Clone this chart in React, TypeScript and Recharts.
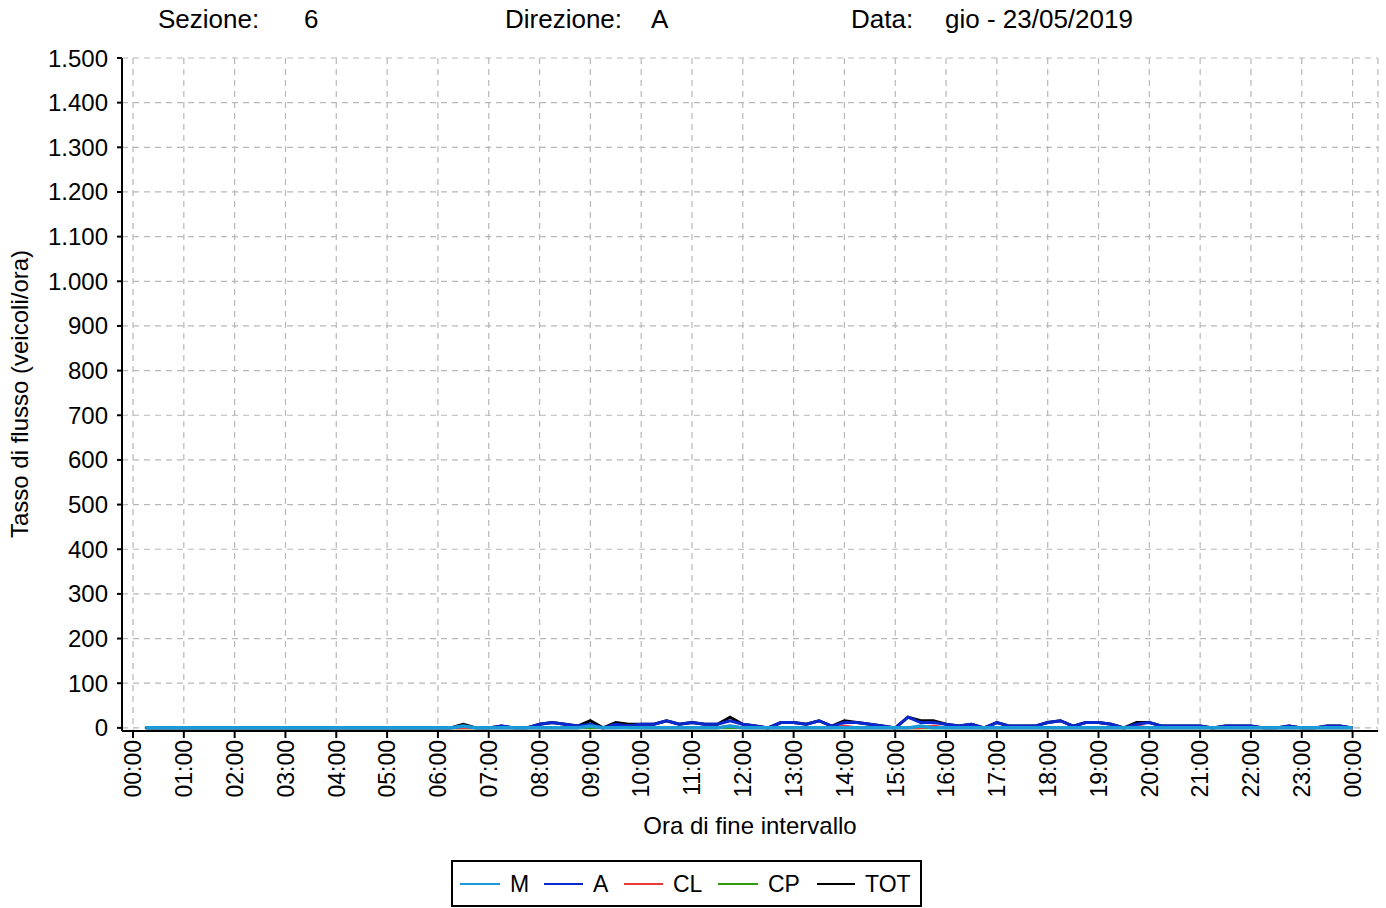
import React from 'react';
import { LineChart, Line, XAxis, YAxis, CartesianGrid } from 'recharts';

// Tasso di flusso per classe, un valore ogni 15 minuti (00:15 ... 24:00)
// ogni riga = un'ora (4 quarti d'ora)
const serieM = [
  0, 0, 0, 0, 0, 0, 0, 0, 0, 0, 0, 0, 0, 0, 0, 0, 0, 0, 0, 0, 0, 0, 0, 0, // 00-06
  0, 4, 0, 0, // 06
  0, 0, 0, 0, // 07
  0, 0, 0, 4, // 08
  0, 0, 0, 0, // 09
  0, 0, 0, 0, // 10
  0, 0, 4, 0, // 11
  0, 0, 0, 0, // 12
  0, 0, 0, 0, // 13
  0, 0, 0, 0, // 14
  0, 4, 0, 0, // 15
  0, 0, 0, 0, // 16
  0, 0, 0, 0, // 17
  0, 0, 0, 0, // 18
  0, 0, 0, 0, // 19
  0, 0, 0, 0, // 20
  0, 0, 0, 0, // 21
  0, 0, 0, 0, // 22
  0, 0, 0, 0, // 23
];

const serieA = [
  0, 0, 0, 0, 0, 0, 0, 0, 0, 0, 0, 0, 0, 0, 0, 0, 0, 0, 0, 0, 0, 0, 0, 0,
  0, 4, 0, 0,
  4, 0, 0, 8,
  12, 8, 4, 8,
  0, 8, 4, 8,
  8, 16, 8, 12,
  8, 8, 16, 8,
  4, 0, 12, 12,
  8, 16, 4, 12,
  12, 8, 4, 0,
  24, 12, 12, 8,
  4, 8, 0, 12,
  4, 4, 4, 12,
  16, 4, 12, 12,
  8, 0, 8, 12,
  4, 4, 4, 4,
  0, 4, 4, 4,
  0, 0, 4, 0,
  0, 4, 4, 0,
];

const serieCL = [
  0, 0, 0, 0, 0, 0, 0, 0, 0, 0, 0, 0, 0, 0, 0, 0, 0, 0, 0, 0, 0, 0, 0, 0,
  0, 0, 0, 0,
  0, 0, 0, 0,
  0, 0, 0, 4,
  0, 0, 4, 0,
  0, 0, 0, 0,
  0, 0, 4, 0,
  0, 0, 0, 0,
  0, 0, 0, 4,
  0, 0, 0, 0,
  0, 0, 4, 0,
  0, 0, 0, 0,
  0, 0, 0, 0,
  0, 0, 0, 0,
  0, 0, 4, 0,
  0, 0, 0, 0,
  0, 0, 0, 0,
  0, 0, 0, 0,
  0, 0, 0, 0,
];

const serieCP = [
  0, 0, 0, 0, 0, 0, 0, 0, 0, 0, 0, 0, 0, 0, 0, 0, 0, 0, 0, 0, 0, 0, 0, 0,
  0, 0, 0, 0,
  0, 0, 0, 0,
  0, 0, 0, 0,
  0, 4, 0, 0,
  0, 0, 0, 0,
  0, 0, 0, 0,
  0, 0, 0, 0,
  0, 0, 0, 0,
  0, 0, 0, 0,
  0, 0, 0, 0,
  0, 0, 0, 0,
  0, 0, 0, 0,
  0, 0, 0, 0,
  0, 0, 0, 0,
  0, 0, 0, 0,
  0, 0, 0, 0,
  0, 0, 0, 0,
  0, 0, 0, 0,
];

const serieTOT = [
  0, 0, 0, 0, 0, 0, 0, 0, 0, 0, 0, 0, 0, 0, 0, 0, 0, 0, 0, 0, 0, 0, 0, 0,
  0, 8, 0, 0,
  4, 0, 0, 8,
  12, 8, 4, 16,
  0, 12, 8, 8,
  8, 16, 8, 12,
  8, 8, 24, 8,
  4, 0, 12, 12,
  8, 16, 4, 16,
  12, 8, 4, 0,
  24, 16, 16, 8,
  4, 8, 0, 12,
  4, 4, 4, 12,
  16, 4, 12, 12,
  8, 0, 12, 12,
  4, 4, 4, 4,
  0, 4, 4, 4,
  0, 0, 4, 0,
  0, 4, 4, 0,
];

// tick dell'asse x in minuti (00:00 ... 24:00) e dell'asse y
const xTicks = [0, 60, 120, 180, 240, 300, 360, 420, 480, 540, 600, 660, 720, 780, 840, 900, 960, 1020, 1080, 1140, 1200, 1260, 1320, 1380, 1440];
const xTickLabels = ['00:00', '01:00', '02:00', '03:00', '04:00', '05:00', '06:00', '07:00', '08:00', '09:00', '10:00', '11:00', '12:00', '13:00', '14:00', '15:00', '16:00', '17:00', '18:00', '19:00', '20:00', '21:00', '22:00', '23:00', '00:00'];
const yTicks = [0, 100, 200, 300, 400, 500, 600, 700, 800, 900, 1000, 1100, 1200, 1300, 1400, 1500];

const COLORS = {
  M: '#1a9ad6',
  A: '#0a28d0',
  CL: '#ec3a3a',
  CP: '#2f9a10',
  TOT: '#000000',
  grid: '#b8b8b8',
};

const FONT = '"Liberation Sans", Arial, Helvetica, sans-serif';

const data = serieA.map((_, i) => ({
  min: (i + 1) * 15,
  M: serieM[i],
  A: serieA[i],
  CL: serieCL[i],
  CP: serieCP[i],
  TOT: serieTOT[i],
}));

const formatY = (v: number) =>
  v >= 1000 ? `${Math.floor(v / 1000)}.${String(v % 1000).padStart(3, '0')}` : String(v);

const XTick = (props: any) => {
  const { x, y, payload } = props;
  const idx = xTicks.indexOf(payload.value);
  return (
    <text
      x={x}
      y={y}
      transform={`rotate(-90 ${x} ${y})`}
      textAnchor="end"
      dy="0.36em"
      fontSize={23}
      fontFamily={FONT}
      fill="#000"
    >
      {xTickLabels[idx]}
    </text>
  );
};

const legendItems = [
  { key: 'M', x1: 460, x2: 500, tx: 510 },
  { key: 'A', x1: 544, x2: 583, tx: 593 },
  { key: 'CL', x1: 624, x2: 663, tx: 673 },
  { key: 'CP', x1: 718, x2: 758, tx: 768 },
  { key: 'TOT', x1: 817, x2: 855, tx: 865 },
];

export default function App() {
  return (
    <div style={{ position: 'absolute', left: 0, top: 0, width: 1386, height: 908, background: '#fff' }}>
      <LineChart
        width={1386}
        height={908}
        data={data}
        margin={{ top: 58, right: 8, left: 0, bottom: 0 }}
      >
        <CartesianGrid stroke={COLORS.grid} strokeDasharray="6 5" strokeWidth={1.2} />
        <XAxis
          dataKey="min"
          type="number"
          domain={[-13, 1470]}
          allowDataOverflow
          ticks={xTicks}
          interval={0}
          height={177}
          tickSize={7}
          tickMargin={2}
          tick={<XTick />}
          axisLine={{ stroke: '#000', strokeWidth: 2 }}
          tickLine={{ stroke: '#000', strokeWidth: 2 }}
        />
        <YAxis
          type="number"
          domain={[-7, 1500]}
          allowDataOverflow
          ticks={yTicks}
          interval={0}
          width={122}
          tickSize={5}
          tickMargin={9}
          tickFormatter={formatY}
          tick={{ fill: '#000', fontSize: 24, fontFamily: FONT }}
          axisLine={{ stroke: '#000', strokeWidth: 2 }}
          tickLine={{ stroke: '#000', strokeWidth: 2 }}
        />
        {/* ordine di disegno inverso: M resta sopra */}
        <Line type="linear" dataKey="TOT" stroke={COLORS.TOT} strokeWidth={3} dot={false} isAnimationActive={false} />
        <Line type="linear" dataKey="CP" stroke={COLORS.CP} strokeWidth={3} dot={false} isAnimationActive={false} />
        <Line type="linear" dataKey="CL" stroke={COLORS.CL} strokeWidth={3} dot={false} isAnimationActive={false} />
        <Line type="linear" dataKey="A" stroke={COLORS.A} strokeWidth={3} dot={false} isAnimationActive={false} />
        <Line type="linear" dataKey="M" stroke={COLORS.M} strokeWidth={3.5} dot={false} isAnimationActive={false} />
      </LineChart>

      <svg
        width={1386}
        height={908}
        style={{ position: 'absolute', left: 0, top: 0, pointerEvents: 'none' }}
        fontFamily={FONT}
      >
        {/* intestazione */}
        <g fontSize={26} fill="#000">
          <text x={158} y={28}>Sezione:</text>
          <text x={304} y={28}>6</text>
          <text x={505} y={28}>Direzione:</text>
          <text x={651} y={28}>A</text>
          <text x={851} y={28}>Data:</text>
          <text x={945} y={28}>gio - 23/05/2019</text>
        </g>

        {/* titoli assi */}
        <text x={750} y={834} fontSize={24} textAnchor="middle">Ora di fine intervallo</text>
        <text x={28} y={394} fontSize={24} textAnchor="middle" transform="rotate(-90 28 394)">
          Tasso di flusso (veicoli/ora)
        </text>

        {/* legenda */}
        <rect x={452} y={861} width={469} height={45} fill="#fff" stroke="#000" strokeWidth={2} />
        {legendItems.map((it) => (
          <g key={it.key}>
            <line x1={it.x1} y1={884} x2={it.x2} y2={884} stroke={(COLORS as any)[it.key]} strokeWidth={2} />
            <text x={it.tx} y={892} fontSize={23} fill="#000">{it.key}</text>
          </g>
        ))}
      </svg>
    </div>
  );
}
